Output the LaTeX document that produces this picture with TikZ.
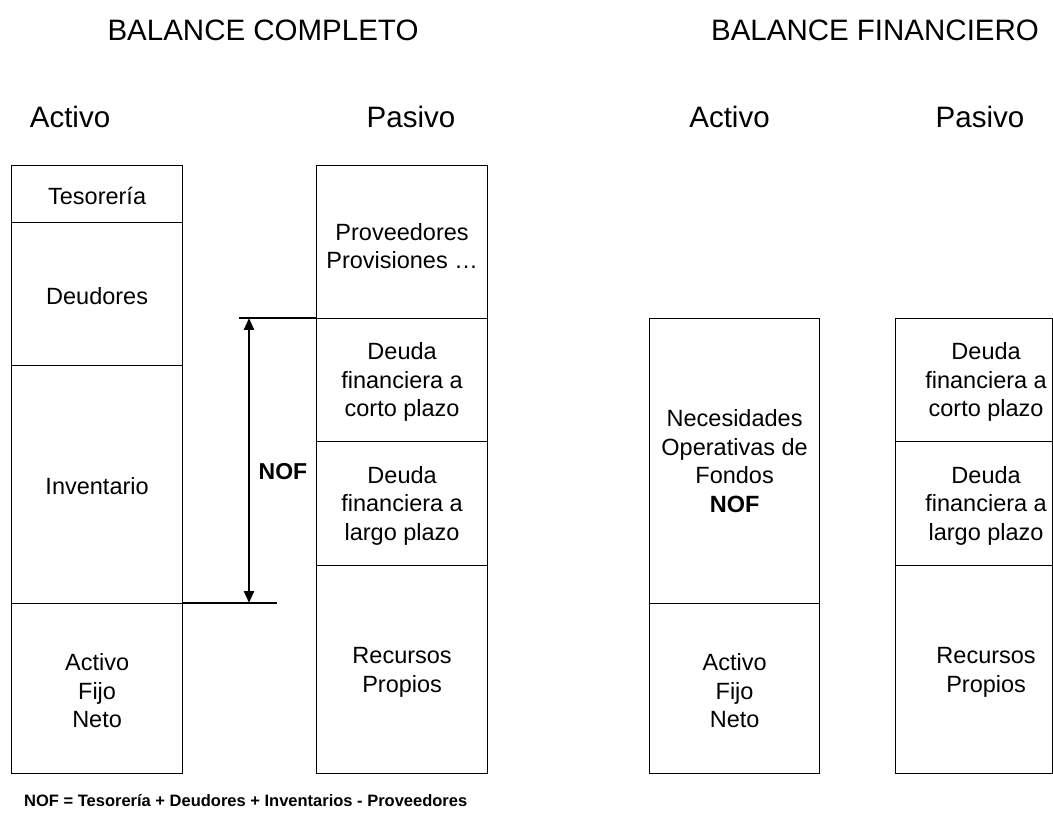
\documentclass[tikz,border=0pt]{standalone}
\usepackage{fontspec}
\setmainfont{Liberation Sans}
\usetikzlibrary{arrows.meta}
\tikzset{
  cell/.style={draw, line width=1.2pt, anchor=north west, inner sep=0pt, minimum width=171pt},
  txt/.style={font=\fontsize{23.5}{28.5}\selectfont, align=center, inner sep=0pt},
  head/.style={font=\fontsize{29.5}{34}\selectfont, anchor=base, inner sep=0pt},
  conn/.style={line width=1.2pt},
  dim/.style={line width=2.4pt, {Triangle[length=12pt,width=10pt]}-{Triangle[length=12pt,width=10pt]}}
}
\begin{document}
\begin{tikzpicture}[x=1pt,y=-1pt]
\fill[white] (0,0) rectangle (1053,826);
\useasboundingbox (0,0) rectangle (1053,826);
% titles
\node[head] (t1) at (263,41) {BALANCE COMPLETO};
\node[head] (t2) at (875,41) {BALANCE FINANCIERO};
\node[head] (a1) at (70,128) {Activo};
\node[head] (p1) at (411,128) {Pasivo};
\node[head] (a2) at (729.5,128) {Activo};
\node[head] (p2) at (980,128) {Pasivo};
% box 1
\node[cell, minimum height=57pt] (tes) at (11,165) {};
\node[cell, minimum height=143pt] (deu) at (11,222) {};
\node[cell, minimum height=238pt] (inv) at (11,365) {};
\node[cell, minimum height=170pt] (afn) at (11,603) {};
\node[txt] at ([yshift=-2pt]tes.center) {Tesorería};
\node[txt] at ([yshift=-2pt]deu.center) {Deudores};
\node[txt] at ([yshift=-2pt]inv.center) {Inventario};
\node[txt] at ([yshift=-2pt]afn.center) {Activo\\Fijo\\Neto};
% box 2
\node[cell, minimum height=153pt] (prv) at (316,165) {};
\node[cell, minimum height=123pt] (dcp) at (316,318) {};
\node[cell, minimum height=124pt] (dlp) at (316,441) {};
\node[cell, minimum height=208pt] (rp) at (316,565) {};
\node[txt] at ([yshift=-4pt]prv.center) {Proveedores\\Provisiones …};
\node[txt] at ([yshift=-2pt]dcp.center) {Deuda\\financiera a\\corto plazo};
\node[txt] at ([yshift=-2pt]dlp.center) {Deuda\\financiera a\\largo plazo};
\node[txt] at ([yshift=-3pt]rp.center) {Recursos\\Propios};
% box 3
\node[cell, minimum width=170pt, minimum height=285pt] (nof) at (649,318) {};
\node[cell, minimum width=170pt, minimum height=170pt] (afn2) at (649,603) {};
\node[txt] at ([yshift=0pt]nof.center) {Necesidades\\Operativas de\\Fondos\\\textbf{NOF}};
\node[txt] at ([yshift=-2pt]afn2.center) {Activo\\Fijo\\Neto};
% box 4
\node[cell, minimum width=157pt, minimum height=123pt] (dcp2) at (895,318) {};
\node[cell, minimum width=157pt, minimum height=124pt] (dlp2) at (895,441) {};
\node[cell, minimum width=157pt, minimum height=208pt] (rp2) at (895,565) {};
\node[txt] at ([xshift=12pt,yshift=-2pt]dcp2.center) {Deuda\\financiera a\\corto plazo};
\node[txt] at ([xshift=12pt,yshift=-2pt]dlp2.center) {Deuda\\financiera a\\largo plazo};
\node[txt] at ([xshift=12pt,yshift=-3pt]rp2.center) {Recursos\\Propios};
% NOF dimension
\coordinate (et) at (239,318);
\coordinate (eb) at (277,603);
\draw[conn] (et) -- (dcp.north west);
\draw[conn] (afn.north east) -- (eb);
\coordinate (at) at (249,318);
\coordinate (ab) at (249,603);
\draw[dim] (at) -- (ab);
\node[font=\fontsize{23}{27}\selectfont\bfseries, inner sep=0pt] (nofl) at (283,472) {NOF};
% formula
\node[font=\fontsize{16.5}{20}\selectfont\bfseries, anchor=base west, inner sep=0pt] (form) at (24,806) {NOF = Tesorería + Deudores + Inventarios - Proveedores};
\end{tikzpicture}
\end{document}
